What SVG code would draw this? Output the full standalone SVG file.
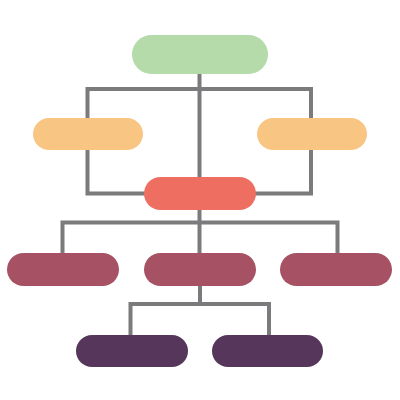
<svg xmlns="http://www.w3.org/2000/svg" width="400" height="400" viewBox="0 0 400 400">
<style>
.c{fill:none;stroke:#7b7b7d;stroke-width:4;stroke-linecap:butt;stroke-linejoin:miter}
</style>
<rect width="400" height="400" fill="#ffffff"/>
<g id="connectors">
<path class="c" d="M199.5 74V177"/>
<path class="c" d="M146 193.5H87.5V89H311V193.5H254"/>
<path class="c" d="M199.5 210V253"/>
<path class="c" d="M62.5 253V222.5H337.5V253"/>
<path class="c" d="M200 286V304"/>
<path class="c" d="M130.5 335V304H269V335"/>
</g>
<g id="n-top"><rect x="132" y="35" width="136" height="39" rx="19.5" fill="#b4dba9"/></g>
<g id="n-left"><rect x="33" y="118" width="110" height="32" rx="16" fill="#f8c583"/></g>
<g id="n-right"><rect x="257" y="118" width="110" height="32" rx="16" fill="#f8c583"/></g>
<g id="n-center"><rect x="144" y="177" width="112" height="33" rx="16.5" fill="#ee6e62"/></g>
<g id="n-l3a"><rect x="7" y="253" width="112" height="33" rx="16.5" fill="#a65164"/></g>
<g id="n-l3b"><rect x="144" y="253" width="112" height="33" rx="16.5" fill="#a65164"/></g>
<g id="n-l3c"><rect x="280" y="253" width="112" height="33" rx="16.5" fill="#a65164"/></g>
<g id="n-l4a"><rect x="76" y="335" width="112" height="32" rx="16" fill="#56375b"/></g>
<g id="n-l4b"><rect x="212" y="335" width="111" height="32" rx="16" fill="#56375b"/></g>
</svg>
